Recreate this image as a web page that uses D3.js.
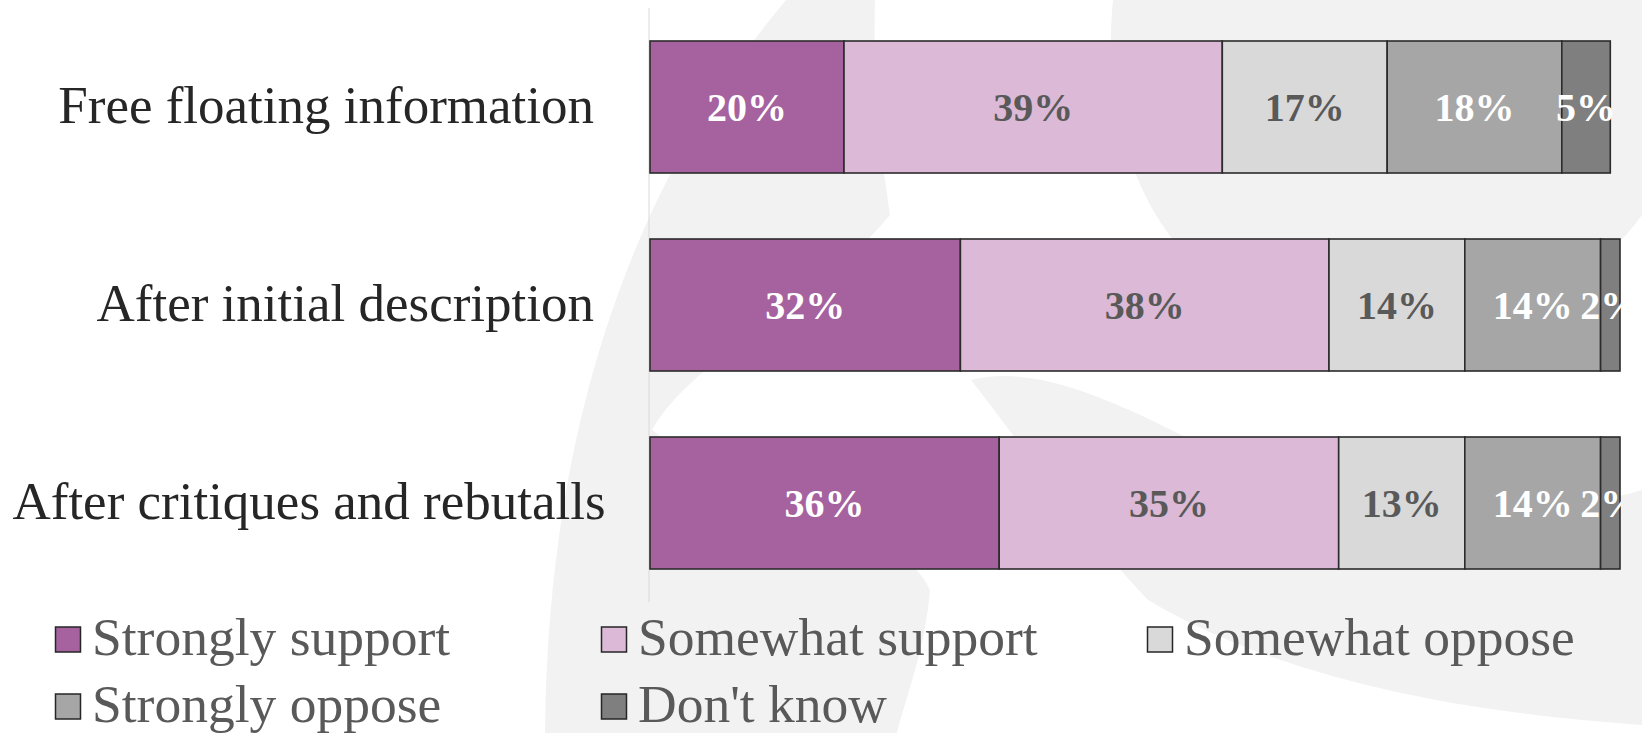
<!DOCTYPE html>
<html>
<head>
<meta charset="utf-8">
<script src="https://cdn.jsdelivr.net/npm/d3@7"></script>
<style>
  html, body { margin: 0; padding: 0; background: #ffffff; }
  svg { display: block; }
</style>
</head>
<body>
<svg id="chart" width="1642" height="733"></svg>
<script>
// ---------- data ----------
const categories = ["Free floating information", "After initial description", "After critiques and rebutalls"];
const seriesNames = ["Strongly support", "Somewhat support", "Somewhat oppose", "Strongly oppose", "Don't know"];
const strongSupport   = [20, 32, 36];
const somewhatSupport = [39, 38, 35];
const somewhatOppose  = [17, 14, 13];
const strongOppose    = [18, 14, 14];
const dontKnow        = [5, 2, 2];

// ---------- styles ----------
const fills = ["#A5629F", "#DBB9D7", "#D9D9D9", "#A6A6A6", "#7F7F7F"];
const labelFills = ["#FFFFFF", "#595959", "#595959", "#FFFFFF", "#FFFFFF"];
const W = 1642, H = 733;
const plot = { left: 650, right: 1620, top: 8, bottom: 602 };

const svg = d3.select("#chart");

// ---------- decorative background ----------
const deco = [
  "M786,0 L875,0 C872,110 884,170 890,215 C820,300 690,360 652,430 C700,470 900,520 930,590 C925,650 905,700 897,733 L545,733 C548,380 660,150 786,0 Z",
  "M1113,0 C1100,130 1150,260 1260,310 C1380,360 1560,330 1642,215 L1642,0 Z",
  "M971,380 C1010,430 1090,540 1148,600 C1300,690 1500,715 1642,725 L1642,490 C1500,530 1350,520 1250,470 C1150,420 1050,360 971,380 Z"
];
svg.append("g").selectAll("path").data(deco).join("path")
  .attr("d", d => d).attr("fill", "#F2F2F2");

// ---------- scales ----------
const rows = categories.map((c, i) => ({
  category: c,
  "Strongly support": strongSupport[i],
  "Somewhat support": somewhatSupport[i],
  "Somewhat oppose": somewhatOppose[i],
  "Strongly oppose": strongOppose[i],
  "Don't know": dontKnow[i]
}));
const stacked = d3.stack().keys(seriesNames)(rows);

const x = d3.scaleLinear().domain([0, 100]).range([plot.left, plot.right]);
const y = d3.scaleBand().domain(categories).range([plot.top, plot.bottom])
  .paddingInner(1 / 3).paddingOuter(1 / 6);

// ---------- axis line ----------
const yAxis = svg.append("g").attr("transform", `translate(${plot.left - 1},0)`)
  .call(d3.axisLeft(y).tickSize(0).tickFormat(""));
yAxis.select(".domain").attr("stroke", "#D9D9D9").attr("stroke-width", 1)
  .attr("d", `M0,${plot.top}V${plot.bottom}`);

// ---------- bars ----------
const defs = svg.append("defs");
defs.append("clipPath").attr("id", "plotclip").append("rect")
  .attr("x", plot.left).attr("y", 0).attr("width", plot.right - plot.left + 1).attr("height", H);

const series = svg.append("g").selectAll("g").data(stacked).join("g")
  .attr("fill", (d, i) => fills[i]);
series.selectAll("rect").data(d => d).join("rect")
  .attr("x", d => x(d[0]))
  .attr("y", d => y(d.data.category))
  .attr("width", d => x(d[1]) - x(d[0]))
  .attr("height", y.bandwidth())
  .attr("stroke", "#2B2B2B")
  .attr("stroke-width", 1.6);

// ---------- data labels ----------
const lblG = svg.append("g").attr("clip-path", "url(#plotclip)");
stacked.forEach((s, si) => {
  lblG.selectAll(null).data(s).join("text")
    .attr("x", d => (x(d[0]) + x(d[1])) / 2)
    .attr("y", d => y(d.data.category) + y.bandwidth() / 2 + 13.5)
    .attr("text-anchor", "middle")
    .attr("font-family", "'Liberation Serif', 'Times New Roman', serif")
    .attr("font-weight", "bold")
    .attr("font-size", 40)
    .attr("fill", labelFills[si])
    .text(d => (d[1] - d[0]) + "%");
});

// ---------- category labels ----------
const labelRight = 594, labelAreaLeft = 24;
const catG = svg.append("g");
categories.forEach(c => {
  const t = catG.append("text")
    .attr("y", y(c) + y.bandwidth() / 2 + 16)
    .attr("font-family", "'Liberation Serif', 'Times New Roman', serif")
    .attr("font-size", 53)
    .attr("fill", "#262626")
    .text(c);
  const w = t.node().getComputedTextLength();
  if (w <= labelRight - labelAreaLeft) {
    t.attr("x", labelRight).attr("text-anchor", "end");
  } else {
    t.attr("x", (labelRight + labelAreaLeft) / 2).attr("text-anchor", "middle");
  }
});

// ---------- legend ----------
const legendX0 = 55.5, legendColW = 546, legendRow0 = 627, legendRowH = 67, sw = 25;
const leg = svg.append("g").selectAll("g").data(seriesNames).join("g")
  .attr("transform", (d, i) => `translate(${legendX0 + (i % 3) * legendColW},${legendRow0 + Math.floor(i / 3) * legendRowH})`);
leg.append("rect").attr("width", sw).attr("height", sw)
  .attr("fill", (d, i) => fills[i]).attr("stroke", "#262626").attr("stroke-width", 1.5);
leg.append("text").attr("x", 36.5).attr("y", sw + 3)
  .attr("font-family", "'Liberation Serif', 'Times New Roman', serif")
  .attr("font-size", 53.5)
  .attr("fill", "#595959")
  .text(d => d);
</script>
</body>
</html>
